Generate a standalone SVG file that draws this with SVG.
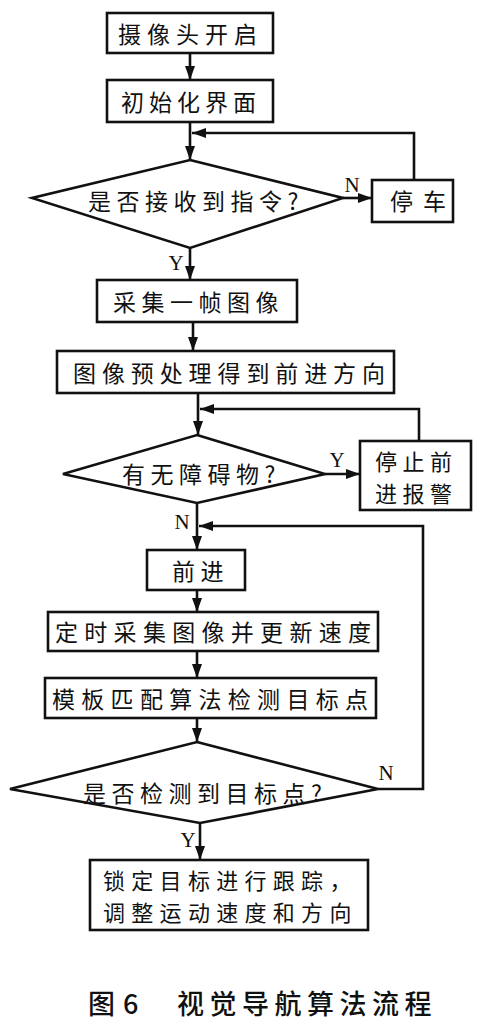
<svg xmlns="http://www.w3.org/2000/svg" width="482" height="1025" viewBox="0 0 482 1025">
<style>
.box{fill:#fff;stroke:#111;stroke-width:2.6}
.ln{fill:none;stroke:#111;stroke-width:2.6}
.t{font-family:"Noto Sans CJK SC","Noto Sans CJK JP",sans-serif;font-size:23px;fill:#111;letter-spacing:5.5px;dominant-baseline:central}
.t2{font-size:22px}
.yn{font-family:"Liberation Serif",serif;font-size:21px;fill:#111;text-anchor:middle;dominant-baseline:central}
.cap{font-family:"Noto Sans CJK SC","Noto Sans CJK JP",sans-serif;font-size:27px;fill:#111;font-weight:500;dominant-baseline:central}
</style>
<defs>
<marker id="ah" viewBox="0 0 14 10" refX="14" refY="5" markerWidth="14" markerHeight="10" markerUnits="userSpaceOnUse" orient="auto">
<path d="M0,0 L14,5 L0,10 z" fill="#111"/>
</marker>
</defs>
<rect width="482" height="1025" fill="#fff"/>
<g id="connectors">
<path class="ln" d="M190,53 V80" marker-end="url(#ah)"/>
<path class="ln" d="M190,122 V160" marker-end="url(#ah)"/>
<path class="ln" d="M414,180 V133 H192" marker-end="url(#ah)"/>
<path class="ln" d="M343,198 H372" marker-end="url(#ah)"/>
<path class="ln" d="M190,248 V280" marker-end="url(#ah)"/>
<path class="ln" d="M193,322 V351" marker-end="url(#ah)"/>
<path class="ln" d="M198,393 V435" marker-end="url(#ah)"/>
<path class="ln" d="M419,441 V409 H200" marker-end="url(#ah)"/>
<path class="ln" d="M325,474 H360" marker-end="url(#ah)"/>
<path class="ln" d="M197,503 V550" marker-end="url(#ah)"/>
<path class="ln" d="M378,789 H423 V526 H199" marker-end="url(#ah)"/>
<path class="ln" d="M197,590 V612" marker-end="url(#ah)"/>
<path class="ln" d="M197,651 V678" marker-end="url(#ah)"/>
<path class="ln" d="M197,718 V742" marker-end="url(#ah)"/>
<path class="ln" d="M200,823 V860" marker-end="url(#ah)"/>
<text class="yn" x="352" y="185">N</text>
<text class="yn" x="176" y="263">Y</text>
<text class="yn" x="337" y="460">Y</text>
<text class="yn" x="182" y="522">N</text>
<text class="yn" x="386" y="773">N</text>
<text class="yn" x="188" y="840">Y</text>
</g>
<g id="start">
<rect class="box" x="107" y="13" width="166" height="40"/>
<text class="t" x="118" y="33" style="letter-spacing:6px">摄像头开启</text>
</g>
<g id="init">
<rect class="box" x="107" y="80" width="166" height="42"/>
<text class="t" x="121" y="101" style="letter-spacing:5px">初始化界面</text>
</g>
<g id="d1">
<polygon class="box" points="190,160 343,198 190,248 32,198"/>
<text class="t" x="88" y="200">是否接收到指令?</text>
</g>
<g id="stop">
<rect class="box" x="372" y="180" width="81" height="42"/>
<text class="t" x="390" y="200" style="letter-spacing:10px">停车</text>
</g>
<g id="capture">
<rect class="box" x="97" y="280" width="200" height="42"/>
<text class="t" x="113" y="301">采集一帧图像</text>
</g>
<g id="preprocess">
<rect class="box" x="57" y="351" width="337" height="42"/>
<text class="t" x="73" y="372" style="letter-spacing:5.9px">图像预处理得到前进方向</text>
</g>
<g id="d2">
<polygon class="box" points="197,435 325,474 197,503 63,474"/>
<text class="t" x="122" y="473">有无障碍物?</text>
</g>
<g id="alarm">
<rect class="box" x="360" y="441" width="111" height="69"/>
<text class="t t2" x="375" y="460" style="letter-spacing:5.5px">停止前</text>
<text class="t t2" x="375" y="492" style="letter-spacing:5.5px">进报警</text>
</g>
<g id="forward">
<rect class="box" x="147" y="550" width="98" height="40"/>
<text class="t" x="172" y="570">前进</text>
</g>
<g id="timer">
<rect class="box" x="48" y="612" width="330" height="39"/>
<text class="t" x="55" y="631" style="letter-spacing:6.3px">定时采集图像并更新速度</text>
</g>
<g id="match">
<rect class="box" x="45" y="678" width="331" height="40"/>
<text class="t" x="52" y="698" style="letter-spacing:6.3px">模板匹配算法检测目标点</text>
</g>
<g id="d3">
<polygon class="box" points="197,742 378,789 200,823 10,789"/>
<text class="t" x="83" y="792">是否检测到目标点?</text>
</g>
<g id="track">
<rect class="box" x="90" y="860" width="278" height="70"/>
<text class="t t2" x="103" y="879" style="letter-spacing:6.3px">锁定目标进行跟踪，</text>
<text class="t t2" x="103" y="911" style="letter-spacing:6.3px">调整运动速度和方向</text>
</g>
<g id="caption">
<text class="cap" y="1002"><tspan x="88">图</tspan><tspan x="123">6</tspan><tspan x="177" style="letter-spacing:5.5px">视觉导航算法流程</tspan></text>
</g>
</svg>
